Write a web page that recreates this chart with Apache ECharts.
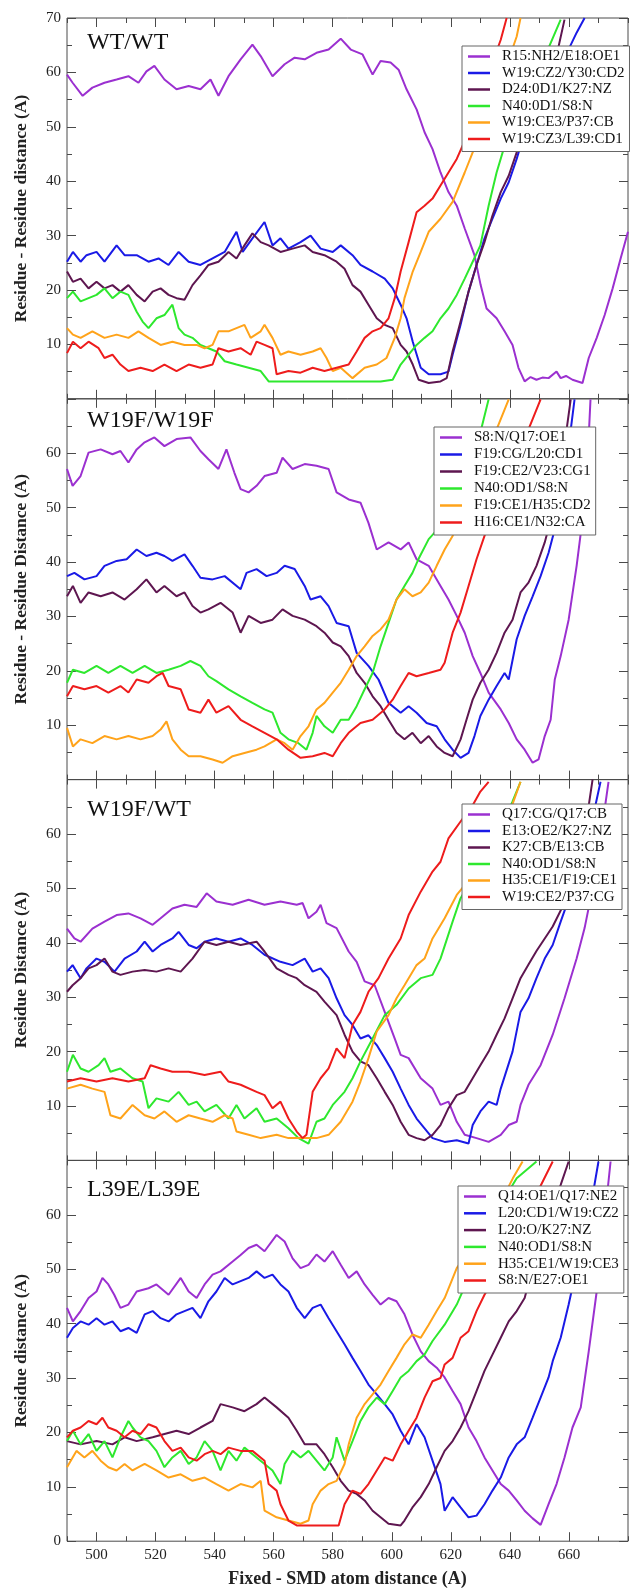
<!DOCTYPE html>
<html>
<head>
<meta charset="utf-8">
<script src="https://cdn.jsdelivr.net/npm/echarts@6/dist/echarts.min.js"></script>
<style>
html, body { margin: 0; padding: 0; background: #fff; }
#chart { width: 631px; height: 1590px; }
</style>
</head>
<body>
<div id="chart"></div>
<script>
// x ticks / labels
var xMajor = [500, 520, 540, 560, 580, 600, 620, 640, 660];

// panel titles, axis names, legend names
var panelTitles = ['WT/WT', 'W19F/W19F', 'W19F/WT', 'L39E/L39E'];
var yNames = ['Residue - Residue distance (A)', 'Residue - Residue Distance (A)', 'Residue Distance (A)', 'Residue distance (A)'];
var p1Names = ['R15:NH2/E18:OE1', 'W19:CZ2/Y30:CD2', 'D24:0D1/K27:NZ', 'N40:0D1/S8:N', 'W19:CE3/P37:CB', 'W19:CZ3/L39:CD1'];
var p2Names = ['S8:N/Q17:OE1', 'F19:CG/L20:CD1', 'F19:CE2/V23:CG1', 'N40:OD1/S8:N', 'F19:CE1/H35:CD2', 'H16:CE1/N32:CA'];
var p3Names = ['Q17:CG/Q17:CB', 'E13:OE2/K27:NZ', 'K27:CB/E13:CB', 'N40:OD1/S8:N', 'H35:CE1/F19:CE1', 'W19:CE2/P37:CG'];
var p4Names = ['Q14:OE1/Q17:NE2', 'L20:CD1/W19:CZ2', 'L20:O/K27:NZ', 'N40:OD1/S8:N', 'H35:CE1/W19:CE3', 'S8:N/E27:OE1'];

// ---- WT/WT ----
var p1Purple = [[490,59.6],[491.9,58.1],[495.3,55.7],[498.6,57.2],[502.7,58.1],[506.8,58.7],[510.8,59.3],[514.2,58.1],[516.9,60.2],[519.6,61.2],[523,58.7],[527.1,56.9],[531.2,57.5],[535.2,56.9],[538.6,58.7],[541.3,55.7],[544.7,59.3],[548.8,62.4],[552.8,65.1],[555.6,63],[559.6,59.3],[563.7,61.5],[567.1,62.7],[570.5,62.4],[574.5,63.6],[578.6,64.2],[582.7,66.2],[586.1,64.2],[590.1,63.3],[593.5,59.6],[596.2,62.1],[599.6,61.8],[602.3,60.5],[605,56.9],[608.4,53.2],[611.1,49],[613.8,45.9],[616.5,41.6],[619.2,38],[622,35.5],[624.7,31.3],[628,26.4],[630.1,20.9],[632.1,16.6],[635.5,14.8],[638.2,12.4],[640.9,9.9],[642.9,5.7],[645,3.2],[647,4],[649,3.5],[651,3.9],[653.1,3.8],[655.8,5],[657.2,3.8],[659,4.2],[661.2,3.5],[664.6,2.9],[666.7,7.5],[669.4,11.2],[672.1,15.4],[674.8,20.3],[677.5,25.8],[680,30.7]];
var p1Blue = [[490,25.2],[492,27],[494.6,25.2],[496.6,26.4],[500,27],[502.7,25.2],[506.8,28.2],[509.5,26.4],[513.6,26.4],[517.6,25.2],[521,25.8],[524.4,24.6],[527.8,27],[531.2,25.2],[535.2,24.6],[539.3,25.8],[543.4,27],[547.4,30.7],[549.5,27],[552.8,29.5],[556.9,32.5],[559.6,28.2],[562.3,29.5],[565,27.6],[569.1,28.8],[572.5,30],[575.9,27.6],[580,27],[582.7,28.2],[586.7,26.4],[589.4,24.6],[593.5,23.4],[597.6,22.1],[600.3,20.3],[603,17.3],[605,14.8],[607.1,10.5],[609.8,5.7],[612.5,4.5],[616.5,4.5],[619.2,5],[620.6,8.1],[623.3,13.6],[626,19.7],[628.7,24.6],[631.4,29.5],[634.1,33.1],[636.9,36.8],[639.6,39.8],[642.3,44.1],[645,49],[650.4,55.1],[657.2,61.2],[662.6,67.3],[665.3,70]];
var p1Dark = [[490,23.4],[492,21.5],[494.6,22.1],[497.3,20.3],[500,21.5],[502.7,20.3],[505.4,20.9],[508.1,19.7],[510.8,20.9],[513.6,19.1],[516.3,17.9],[519,19.7],[521.7,20.3],[524.4,19.1],[527.1,18.5],[529.8,18.2],[532.5,20.9],[535.2,22.7],[537.9,24.6],[541.3,25.2],[544.7,27],[547.4,25.8],[550.1,28.2],[552.8,30.4],[555.6,28.8],[558.3,28.2],[562.3,27],[566.4,27.6],[570.5,28.2],[573.2,27],[577.2,26.4],[581.3,25.2],[584,23.9],[586.7,20.9],[589.4,19.7],[592.1,17.3],[594.9,14.8],[597.6,13.6],[600.3,13],[603,9.9],[605,8.7],[607.1,6.3],[609.1,3.5],[612.5,2.9],[616.5,3.2],[618.6,3.8],[620.6,8.7],[623.3,14.2],[626,19.7],[628.7,24.6],[631.4,28.8],[634.1,33.7],[636.9,38],[639.6,41],[642.3,45.3],[647.7,52],[654.5,59.9],[658.5,69.7]];
var p1Green = [[490,18.5],[492,19.7],[494.6,17.9],[497.3,18.5],[500,19.1],[502.7,20.3],[505.4,18.5],[508.1,19.7],[510.8,19.1],[513.6,16],[515.6,14.2],[517.6,13],[520.3,14.8],[523,15.4],[525.7,17.3],[527.8,13],[529.8,11.8],[532.5,11.2],[535.2,9.9],[537.9,9.3],[540.6,8.7],[543.4,6.9],[547.4,6.3],[551.5,5.7],[555.6,5.1],[558.3,3.2],[562.3,3.2],[569.1,3.2],[575.9,3.2],[582.7,3.2],[589.4,3.2],[596.2,3.2],[600.3,3.5],[603,6.3],[605.7,8.1],[608.4,9.9],[611.1,11.2],[613.8,12.4],[616.5,14.8],[619.2,16.6],[622,19.1],[624.7,22.1],[627.4,25.2],[630,28.2],[632.8,35.5],[635.5,41.6],[638.2,46.5],[642.3,51.4],[649,59.3],[657.2,69.7]];
var p1Orange = [[490,13],[492,11.8],[494.6,11.2],[498.6,12.4],[502.7,11.2],[506.8,11.8],[510.8,11.2],[514.2,12.4],[517.6,11.2],[521.7,9.9],[525.7,10.5],[529.8,9.9],[533.9,9.9],[536.6,9.3],[539.3,9.9],[541.3,12.4],[544.7,12.4],[547.4,13],[550.1,13.6],[552.2,11.2],[555.6,12.4],[556.9,13.6],[559.6,11.2],[562.3,8.1],[565,8.7],[569.1,8.1],[573.2,8.7],[575.9,9.3],[577.9,7.5],[580,5.1],[582.7,5.7],[586.7,3.8],[590.8,5.7],[594.9,6.3],[598.2,7.5],[601,11.2],[603,14.8],[604.3,18.5],[607.1,23.4],[609.8,27],[612.5,30.7],[616.5,33.1],[620.6,36.2],[624.7,41.6],[627.4,45.3],[631.4,50.2],[636.9,58.1],[642.3,66.6],[643.6,70]];
var p1Red = [[490,8.4],[492,10.5],[494.6,9.3],[497.3,10.5],[500.7,9.3],[502.7,7.5],[505.4,8.1],[508.1,6.3],[510.8,5.1],[514.9,5.7],[519,5.1],[523,6.3],[527.1,5.1],[531.2,6.3],[535.2,5.7],[539.3,6.3],[541.3,9.3],[544.7,8.7],[548.8,9.3],[552.2,8.1],[554.2,10.5],[556.9,9.9],[559.6,9.3],[561,4.5],[565,5.1],[569.1,4.8],[573.2,5.7],[577.2,5.1],[581.3,5.7],[585.4,6.3],[588.1,8.7],[590.8,11.2],[593.5,12.4],[596.2,13],[598.9,14.8],[601,18.5],[603,23.4],[605.7,28.8],[608.4,34.3],[611.1,35.5],[613.8,36.8],[616.5,39.2],[619.2,41.6],[622,44.1],[626,49],[628.7,53.2],[631.4,57.5],[634.1,61.8],[636.9,66],[638.9,70]];

// ---- W19F/W19F ----
var p2Purple = [[490,57.1],[491.9,54],[494.6,55.8],[497.3,60.1],[501.4,60.7],[505.4,59.8],[508.1,60.4],[510.8,58.3],[513.6,60.7],[516.3,62],[519.6,62.9],[523,61.3],[527.1,62.6],[531.8,62.9],[535.2,60.4],[537.9,58.9],[541.3,57.1],[544,60.7],[546.7,56.4],[548.8,53.4],[551.5,52.8],[554.2,54],[556.9,55.8],[561,56.4],[563,59.2],[566.4,57.1],[570.5,58],[574.5,57.7],[578.6,57.1],[581.3,52.8],[585.4,51.5],[589.4,50.9],[592.1,47.2],[594.9,42.3],[598.9,43.6],[603,42.3],[605.7,43.6],[608.4,40.5],[612.5,39.3],[616.5,35.6],[619.2,33.1],[622,30.1],[624.7,27],[627.4,22.7],[630,19.6],[632.8,16],[636.9,12.9],[639.6,10.4],[642.3,7.4],[645,5.5],[647.7,3.1],[649.7,3.7],[651.8,8],[653.8,11],[655.2,18.4],[657.2,22.7],[659.9,29.4],[662.6,39.3],[664.6,47.9],[666,55.2],[667.3,69.9]];
var p2Blue = [[490,37.4],[492.5,38],[495.9,36.8],[500,37.4],[502.7,39.3],[506.8,40.2],[510.2,40.5],[513.6,42.3],[516.9,41.1],[520.3,41.7],[523,41.1],[525.7,40.2],[529.8,41.4],[532.5,39.3],[535.2,37.1],[539.3,36.8],[543.4,37.4],[548.8,35],[550.8,38],[554.2,38.7],[557.6,37.4],[561,38],[563.7,39.3],[567.1,38.7],[570.5,35.6],[572.5,33.1],[575.9,33.7],[578.6,31.9],[581.3,28.8],[585.4,28.2],[588.1,23.3],[592.1,20.9],[595.5,18.4],[598.9,14.1],[603,12.3],[605.7,13.5],[608.4,12.3],[611.8,10.4],[615.2,9.8],[617.9,7.4],[620.6,5.5],[623.3,4],[626,4.9],[628,8],[630,11.7],[632.8,14.7],[635.5,17.2],[638.2,19.6],[639.6,18.4],[642.3,25.8],[645,30.1],[647.7,33.7],[650.4,37.4],[653.1,41.7],[655.2,46],[657.2,52.1],[659.9,61.3],[661.9,69.9]];
var p2Dark = [[490,33.7],[492,35.6],[494.6,32.5],[497.3,34.4],[501.4,33.7],[505.4,34.4],[509.5,33.1],[513.6,35],[516.9,36.8],[520.3,34.4],[523,35.6],[527.1,33.7],[529.8,34.4],[532.5,31.9],[535.2,30.7],[537.9,31.3],[542,32.5],[546.1,30.7],[548.8,27],[551.5,30.1],[555.6,28.8],[559.6,29.4],[563,31.3],[566.4,30.1],[570.5,29.4],[574.5,28.2],[577.2,27],[580,25.2],[582.7,24.5],[585.4,22.7],[588.1,19.6],[590.8,17.8],[593.5,15.3],[596.2,13.5],[598.9,11],[601.6,8.6],[604.3,7.4],[607,8.6],[609.8,6.7],[612.5,8],[615.2,6.1],[617.9,4.9],[620.6,4.3],[623.3,7.4],[625.3,11],[627.4,14.7],[630,17.8],[632.8,20.2],[635.5,23.3],[638.2,27],[640.9,29.4],[643.6,34.4],[646.3,36.2],[649,39.3],[651.8,43.6],[654.5,49.1],[657.2,56.4],[660.6,69.9]];
var p2Green = [[490,17.8],[492,20.2],[495.9,19.6],[500,20.9],[504,19.6],[508.1,20.9],[512.2,19.6],[516.3,20.9],[520.3,19.6],[524.4,20.2],[528.5,20.9],[531.8,21.8],[535.2,20.9],[537.9,19],[540.6,18.1],[544.7,16.6],[548.8,15.3],[552.8,14.1],[556.9,12.9],[559.6,12.3],[562.3,8.6],[565,7.4],[568.4,6.7],[571.1,5.5],[573.2,8.6],[574.5,11.7],[577.2,9.8],[580,8.6],[582.7,11],[585.4,11],[588.1,13.5],[590.8,16.6],[593.5,19.6],[596.2,24.5],[598.9,28.8],[601.6,33.1],[604.3,35.6],[607,38],[609,40.5],[612.5,44.2],[616.5,46.6],[620.6,50.3],[626,57.7],[630,63.8],[632.8,69.9]];
var p2Orange = [[490,9.5],[492,6.1],[494.6,7.4],[498.6,6.7],[502.7,8],[506.8,7.4],[510.8,8],[514.9,7.4],[519,8],[521.7,9.2],[523.7,10.7],[525.7,7.4],[528.5,5.5],[531.2,4.3],[535.2,4.3],[539.3,3.7],[542.7,3.1],[546.1,4.3],[550.1,4.9],[554.2,5.5],[556.9,6.1],[561,7.4],[563.7,6.7],[566.4,5.5],[569.1,8],[571.8,9.8],[574.5,12.9],[577.2,14.1],[580,16],[582.7,17.8],[585.4,20.2],[588.1,22.7],[590.8,24.5],[593.5,26.4],[596.2,27.6],[598.9,29.4],[601.6,33.1],[604.3,35],[607,33.7],[609.8,34.4],[612.5,36.2],[615.2,39.3],[617.9,42.3],[620.6,44.8],[624.7,50.3],[630,57.7],[635.5,64.4],[639.6,69.9]];
var p2Red = [[490,15.3],[492,17.2],[495.9,16.6],[500,17.2],[504,16],[508.1,17.2],[510.8,16],[513.6,18.4],[517.6,17.8],[520.3,19],[522.4,19.6],[524.4,17.2],[528.5,16.6],[531.2,12.9],[535.2,12.3],[537.9,14.7],[540.6,12.3],[544.7,13.5],[548.8,11],[552.8,9.8],[556.9,8.6],[561,7.4],[565,5.5],[569.1,4],[573.2,4.3],[577.2,4.9],[580,4.3],[582.7,6.7],[585.4,8.6],[589.4,10.4],[593.5,11],[597.6,12.9],[600.3,14.7],[603,17.2],[605.7,19.6],[608.4,19],[612.5,19.6],[616.5,20.2],[617.9,21.5],[620.6,27],[623.3,30.7],[626,35.6],[628.7,40.5],[631.4,44.8],[635.5,50.3],[640.9,57.7],[646.3,64.4],[650.4,69.9]];

// ---- W19F/WT ----
var p3Purple = [[490,42.6],[492.5,40.8],[494.6,40.2],[498.6,42.6],[502.7,43.9],[506.8,45.1],[510.8,45.4],[514.9,44.5],[519,43.3],[521.7,44.5],[525.7,46.3],[529.8,47],[533.9,46.6],[537.3,49.1],[540.6,47.6],[546.1,47],[551.5,47.9],[556.9,47],[562.3,47.6],[567.8,47],[569.8,47.3],[571.8,44.5],[574.5,45.7],[575.9,47],[577.9,43.6],[581.3,42.7],[585.4,38.4],[588.1,36.5],[590.8,32.9],[594.2,32.2],[597.6,27.3],[601,22.4],[603,19.4],[605.7,18.8],[609.8,15.1],[613.8,13.2],[616.5,10.2],[619.2,10.8],[622,7.1],[624.7,4.7],[628.7,4.1],[632.8,3.4],[636.9,4.7],[639.6,6.5],[642.3,7.1],[643.6,10.2],[646.3,13.9],[650.4,17.5],[654.5,23.1],[658.5,29.8],[662.6,37.1],[665.3,42.7],[668,50],[670.7,59.2],[673.4,69.6]];
var p3Blue = [[490,34.7],[491.9,35.9],[494.6,33.5],[496.6,35.3],[500,37.1],[502.7,36.5],[506.1,34.7],[509.5,37.1],[513.6,38.4],[516.3,40.2],[519,38.4],[521.7,39.6],[525.7,40.8],[527.8,42],[531.2,39.6],[533.9,39],[536.6,40.2],[540.6,40.8],[544.7,40.2],[548.8,40.8],[552.8,39.6],[556.9,37.8],[562.3,36.5],[566.4,35.9],[570.5,37.1],[573.2,34.7],[575.9,35.3],[578.6,33.5],[581.3,29.8],[584,26.7],[586.7,24.9],[589.4,22.4],[592.1,23],[594.9,21.2],[597.6,18.8],[600.3,16.3],[603,13.2],[605.7,10.2],[608.4,7.7],[611.1,5.9],[613.8,4.1],[617.9,3.4],[622,3.7],[626,3.1],[627.4,6.5],[630,9],[632.8,10.8],[635.5,10.2],[636.9,13.2],[640.9,20],[643.6,27.3],[646.3,29.8],[649,33.5],[651.8,37.1],[654.5,39.6],[657.2,43.9],[661.2,50],[665.3,56.1],[670.7,69.6]];
var p3Dark = [[490,31],[491.9,32.2],[494.6,33.5],[497.3,35.3],[500,35.9],[502.7,37.1],[505.4,34.7],[508.1,34.1],[512.2,34.7],[516.3,35],[520.3,34.7],[524.4,35.3],[528.5,34.7],[532.5,37.1],[536.6,40.2],[540.6,39.6],[544.7,40.2],[548.8,39.6],[554.2,40.2],[556.9,38.4],[561,35.3],[565,34.1],[567.8,33.5],[570.5,32.2],[574.5,31],[577.2,29.2],[581.3,26.7],[584,23.1],[586.7,20],[589.4,18.2],[592.1,17.5],[594.9,15.1],[597.6,12.6],[600.3,10.2],[603,7.1],[605.7,4.7],[608.4,4.1],[611.1,3.7],[613.8,4.7],[616.5,6.5],[619.2,9.6],[622,12],[624.7,12.6],[627.4,15.1],[630,17.5],[632.8,20],[635.5,23.1],[638.2,26.1],[640.9,29.8],[643.6,33.5],[646.3,36],[649,38.5],[654.5,43],[660,49],[665,59],[668,70]];
var p3Green = [[490,16.3],[492,19.4],[494.6,16.9],[497.3,16.3],[500.7,17.5],[502.7,18.8],[504.7,16.3],[508.1,16.9],[512.2,15.1],[515.6,14.5],[517.6,9.6],[520.3,11.4],[524.4,10.8],[527.8,12.6],[531.2,10.2],[533.9,10.8],[536.6,9],[540.6,10.2],[544.7,7.7],[547.4,10.2],[550.1,7.7],[554.2,9.6],[556.9,7.1],[561,7.7],[565,5.9],[568.4,4.1],[571.8,3.1],[574.5,7.1],[577.2,7.7],[580,10.2],[584,12.6],[586.7,15.1],[589.4,18.2],[593.5,22.4],[597.6,26.7],[601.6,28.6],[605.7,31.6],[609.8,33.5],[613.8,34.1],[616.5,37.1],[620.6,43.9],[623.3,48.2],[627.4,51.9],[634.1,57.4],[640.9,66],[643.6,69.6]];
var p3Orange = [[490,13.2],[494.6,13.9],[498.6,13.2],[502.7,12.6],[504.7,8.3],[508.1,7.7],[512.2,10.2],[516.3,8.3],[519.6,7.7],[523,9],[527.1,7.1],[531.2,8.3],[535.2,7.7],[539.3,7.1],[543.4,8.3],[546.1,7.7],[547.4,5.3],[551.5,4.7],[555.6,4.1],[561,4.7],[565,4.1],[570.5,4.1],[574.5,4.1],[578.6,4.7],[582.7,7.1],[586.7,10.8],[589.4,14.5],[592.1,18.8],[594.9,23.7],[598.9,26.7],[601.6,29.8],[604.3,32.2],[608.4,35.9],[611.1,37.1],[613.8,40.8],[617.9,44.5],[622,48.8],[627.4,52.4],[634.1,58],[639.6,63.5],[643.6,69.6]];
var p3Red = [[490,14.5],[494.6,15.1],[500,14.5],[505.4,15.1],[510.8,14.5],[516.3,15.1],[518.3,17.5],[521.7,16.9],[525.7,16.3],[531.2,16.3],[536.6,15.7],[542,16.3],[544.7,14.5],[548.8,13.9],[554.2,12.6],[556.9,12],[559.6,9.6],[562.3,10.8],[565,7.7],[567.8,5.3],[569.8,4.1],[571.1,4.7],[573.2,12.6],[575.9,15.1],[578.6,16.9],[581.3,20.6],[584,18.8],[586.7,24.9],[589.4,27.3],[592.1,31],[595.5,33.5],[598.9,37.1],[603,40.8],[605.7,45.1],[609.8,49.4],[613.8,53.1],[616.5,54.9],[619.2,59.2],[623.3,62.3],[627.4,65.3],[630,67.8],[632.8,69.6]];

// ---- L39E/L39E ----
var p4Purple = [[490,42.9],[492,40.4],[494.6,42.3],[497.3,44.7],[500,45.9],[502,48.4],[504,47.2],[506,45.3],[508.1,42.9],[510.8,43.5],[513.6,45.9],[517.6,46.5],[520.3,47.2],[524.4,45.3],[528.5,48.4],[531.2,45.9],[533.9,44.7],[536.6,47.2],[539.3,49],[542,49.6],[546.1,51.4],[548.8,52.6],[551.5,53.9],[554.2,54.5],[556.9,53.3],[561,56.3],[563.7,55.1],[566.4,52],[569.1,50.2],[571.8,50.8],[574.5,52.7],[577.2,51.4],[580,53.3],[582.7,50.8],[585.4,48.4],[588.1,49.6],[590.8,47.2],[593.5,45.3],[596.2,43.5],[598.9,44.7],[601.6,44.1],[604.3,41.7],[607,38],[609.8,34.9],[612.5,33.1],[615.2,31.9],[617.9,30.1],[620.6,27.6],[623.3,25.2],[626,20.9],[628.7,18.4],[631.4,15.4],[634.1,13],[636.9,10.5],[639.6,9.3],[642.3,7.5],[645,5.6],[647.7,4.2],[650.4,3],[653.1,6.8],[655.8,10.5],[658.5,15.4],[661.2,20.9],[664,24.6],[666.7,34.9],[669.4,45.9],[672.1,59.4],[674.1,69.8]];
var p4Blue = [[490,37.4],[492,39.2],[494.6,40.4],[497.3,39.8],[500,41],[502.7,39.8],[505.4,40.4],[508.1,38.6],[510.8,39.2],[513.6,38.3],[516.3,41.7],[519,42.3],[521.7,41],[524.4,40.4],[527.1,41.7],[529.8,42.3],[532.5,42.9],[535.2,41],[537.9,44.1],[540.6,45.9],[543.4,48.4],[546.1,47.2],[548.8,47.8],[551.5,48.4],[554.2,49.6],[556.9,48.4],[559.6,49],[562.3,47.2],[565,45.9],[567.8,42.9],[570.5,41],[573.2,42.9],[575.9,43.5],[578.6,41],[581.3,38.6],[584,36.2],[586.7,33.7],[589.4,31.3],[592.1,28.8],[594.9,27],[597.6,25.2],[600.3,23.3],[603,20.3],[605.7,17.8],[608.4,21.5],[611.1,19.1],[613.8,14.8],[616.5,10.5],[617.9,5.6],[620.6,8.1],[623.3,6.2],[626,4.4],[628.7,4.7],[631.4,6.8],[634.1,9.3],[636.9,11.7],[639.6,15.4],[642.3,17.8],[645,19.1],[647.7,22.7],[650.4,26.4],[653.1,30.1],[654.5,33.1],[657.2,37.4],[659.9,43.5],[662.6,50.2],[666.7,59.4],[670,69.8]];
var p4Dark = [[490,18.4],[494.6,17.8],[500,18.4],[505.4,17.8],[509.5,19.1],[513.6,18.4],[519,19.1],[523,19.7],[527.1,20.3],[531.2,19.7],[535.2,20.9],[539.3,22.1],[542,25.2],[546.1,24.6],[550.1,23.9],[554.2,25.2],[556.9,26.4],[561,24.6],[565,22.7],[567.8,20.3],[570.5,17.8],[574.5,17.8],[577.2,16],[580,13.6],[582.7,11.1],[585.4,9.3],[588.1,8.7],[590.8,7.5],[593.5,5.6],[596.2,4.4],[598.9,3.2],[603,2.9],[604.3,3.8],[607,6.2],[609.8,8.1],[612.5,10.5],[615.2,13.6],[617.9,16.6],[620.6,18.4],[623.3,20.9],[626,23.9],[628.7,27.6],[631.4,31.3],[634.1,34.3],[636.9,37.4],[639.6,40.4],[642.3,42.3],[645,44.7],[647.7,50.2],[651.8,57.5],[657.2,65.5],[659.9,69.8]];
var p4Green = [[490,18.4],[492,20.3],[494.6,17.8],[497.3,19.7],[500,16.6],[502.7,18.4],[505.4,15.4],[508.1,19.1],[510.8,22.1],[512.2,20.9],[514.9,19.1],[517.6,18.4],[520.3,16.6],[523,13.6],[525.7,15.4],[528.5,16.6],[531.2,14.2],[533.9,15.4],[536.6,18.4],[539.3,16.6],[542,13],[544.7,16.6],[547.4,14.8],[550.1,17.2],[554.2,15.4],[556.9,14.2],[559.6,13],[562.3,10.5],[563.7,14.2],[566.4,16.6],[569.1,15.4],[571.8,16.6],[574.5,14.8],[577.2,13],[580,15.4],[581.3,19.1],[584,14.8],[586.7,18.4],[589.4,22.1],[592.1,24.6],[594.9,26.4],[597.6,25.2],[600.3,27.6],[603,30.1],[605.7,31.3],[608.4,33.1],[611.1,34.3],[613.8,36.8],[617.9,39.8],[622,43.5],[626,48.4],[630,53.3],[636.9,61.9],[642.3,66.7],[649,69.8]];
var p4Orange = [[490,13.6],[493.2,16.6],[495.9,15.4],[498.6,16.6],[501.4,14.8],[504,13.6],[506.8,13],[509.5,14.2],[512.2,13],[516.3,14.2],[520.3,13],[524.4,11.7],[528.5,12.3],[532.5,11.1],[536.6,11.7],[540.6,10.5],[544.7,9.3],[548.8,10.5],[552.8,9.9],[555.6,11.1],[556.9,5.6],[561,4.4],[565,3.8],[569.1,3.2],[571.8,3.8],[573.2,6.8],[575.9,9.3],[578.6,10.5],[581.3,11.1],[584,14.2],[585.4,17.8],[588.1,22.7],[590.8,25.2],[593.5,27],[596.2,28.8],[598.9,31.3],[601.6,33.7],[604.3,36.2],[607,38],[609.8,37.4],[612.5,39.8],[615.2,42.3],[617.9,44.7],[622,50.2],[626,53.3],[630,56.3],[636.9,62.4],[641,66.7],[644.3,69.8]];
var p4Red = [[490,19.1],[492,20.3],[494.6,20.9],[497.3,22.1],[500,21.5],[502,22.7],[504,20.9],[506.8,20.3],[509.5,19.1],[512.2,20.3],[514.9,19.7],[517.6,21.5],[520.3,20.9],[523,18.4],[525.7,16.6],[528.5,17.2],[531.2,15.4],[533.9,14.8],[536.6,16],[539.3,16.6],[542,16],[544.7,17.2],[548.8,16.6],[552.8,16.6],[556.9,14.8],[558.3,10.5],[561,9.3],[562.3,6.8],[565,3.8],[567.8,2.9],[573.2,2.9],[578.6,2.9],[582,2.9],[584,6.8],[586.7,9.3],[589.4,8.7],[592.1,10.5],[594.9,13],[597.6,15.4],[600.3,14.8],[603,17.8],[605.7,20.3],[608.4,22.7],[611.1,26.4],[613.8,29.4],[616.5,30],[617.9,32.5],[620.6,33.7],[623.3,37.4],[626,38.6],[628.7,42.3],[631.4,45.3],[635.5,49],[640.9,55.7],[647.7,62.4],[654.5,69.8]];

var COLORS = ['#9b30d0', '#1a1ae6', '#5e1650', '#2ee82e', '#ffa31a', '#ee1c1c'];
var FONT = 'Liberation Serif';
var AXIS_COLOR = '#4a4a4a';

var panels = [
    { names: p1Names, data: [p1Purple, p1Blue, p1Dark, p1Green, p1Orange, p1Red], legend: { left: 462, top: 46, gap: 1.5 }, titleTop: 31 },
    { names: p2Names, data: [p2Purple, p2Blue, p2Dark, p2Green, p2Orange, p2Red], legend: { left: 434, top: 427, gap: 2 }, titleTop: 409 },
    { names: p3Names, data: [p3Purple, p3Blue, p3Dark, p3Green, p3Orange, p3Red], legend: { left: 462, top: 804, gap: 1.5 }, titleTop: 798 },
    { names: p4Names, data: [p4Purple, p4Blue, p4Dark, p4Green, p4Orange, p4Red], legend: { left: 458, top: 1186, gap: 1.8 }, titleTop: 1178 }
];

var TOP0 = 18, H = 380.8;
var grids = [], xAxes = [], yAxes = [], series = [], legends = [], titles = [];

function makeX(i, pos, major, withLabels) {
    var ax = {
        type: 'value', gridIndex: i, position: pos,
        min: 490, max: 680, interval: 10,
        axisLine: { show: false },
        splitLine: { show: false },
        axisTick: { inside: true, length: major ? 9 : 5, lineStyle: { color: AXIS_COLOR } },
        axisLabel: { show: false }
    };
    if (major) {
        ax.axisTick.customValues = xMajor;
    }
    if (withLabels) {
        ax.axisLabel = {
            show: true, customValues: xMajor, margin: 6,
            fontFamily: FONT, fontSize: 15, color: '#222'
        };
        ax.name = 'Fixed - SMD atom distance (A)';
        ax.nameLocation = 'middle';
        ax.nameGap = 29;
        ax.nameTextStyle = { fontFamily: FONT, fontSize: 18, fontWeight: 'bold', color: '#222' };
    }
    return ax;
}

panels.forEach(function (p, i) {
    var top = TOP0 + i * H;
    grids.push({ left: 67, right: 3, top: top, height: H, show: true, borderColor: AXIS_COLOR, borderWidth: 1, backgroundColor: 'transparent' });

    xAxes.push(makeX(i, 'bottom', false, false));
    xAxes.push(makeX(i, 'bottom', true, i === 3));
    xAxes.push(makeX(i, 'top', false, false));
    xAxes.push(makeX(i, 'top', true, false));

    var hideMin = i < 3, hideMax = i > 0;
    ['left', 'right'].forEach(function (side) {
        var ax = {
            type: 'value', gridIndex: i, position: side,
            min: 0, max: 70, interval: 10,
            axisLine: { show: false },
            splitLine: { show: false },
            axisTick: { inside: true, length: 9, lineStyle: { color: AXIS_COLOR } },
            minorTick: { show: true, splitNumber: 2, length: 5, lineStyle: { color: AXIS_COLOR } },
            axisLabel: { show: false }
        };
        if (side === 'left') {
            ax.axisLabel = {
                show: true, margin: 6, fontFamily: FONT, fontSize: 15, color: '#222',
                formatter: function (v) {
                    if ((v === 0 && hideMin) || (v === 70 && hideMax)) return '';
                    return v;
                }
            };
            ax.name = yNames[i];
            ax.nameLocation = 'middle';
            ax.nameGap = 37;
            ax.nameTextStyle = { fontFamily: FONT, fontSize: 17.5, fontWeight: 'bold', color: '#222' };
        }
        yAxes.push(ax);
    });

    p.data.forEach(function (d, k) {
        series.push({
            type: 'line', name: p.names[k],
            xAxisIndex: i * 4, yAxisIndex: i * 2,
            data: d, symbol: 'none', showSymbol: false,
            lineStyle: { color: COLORS[k], width: 2 },
            itemStyle: { color: COLORS[k] },
            z: 2
        });
    });

    // legend: plain coloured dash, no marker
    legends.push({
        orient: 'vertical', left: p.legend.left, top: p.legend.top,
        data: p.names, selectedMode: false,
        icon: 'rect', itemWidth: 22, itemHeight: 2.5, itemGap: p.legend.gap,
        padding: [3, 5, 5, 6],
        backgroundColor: '#fff', borderColor: '#666', borderWidth: 1, borderRadius: 0,
        textStyle: { fontFamily: FONT, fontSize: 15, lineHeight: 15, color: '#111', padding: [0, 0, 0, 7] },
        z: 10
    });

    titles.push({
        text: panelTitles[i], left: 87, top: p.titleTop, padding: 0,
        textStyle: { fontFamily: FONT, fontSize: 24, fontWeight: 'normal', color: '#111' }
    });
});

var myChart = echarts.init(document.getElementById('chart'));
myChart.setOption({
    animation: false,
    backgroundColor: '#fff',
    title: titles,
    legend: legends,
    grid: grids,
    xAxis: xAxes,
    yAxis: yAxes,
    series: series
});
</script>
</body>
</html>
